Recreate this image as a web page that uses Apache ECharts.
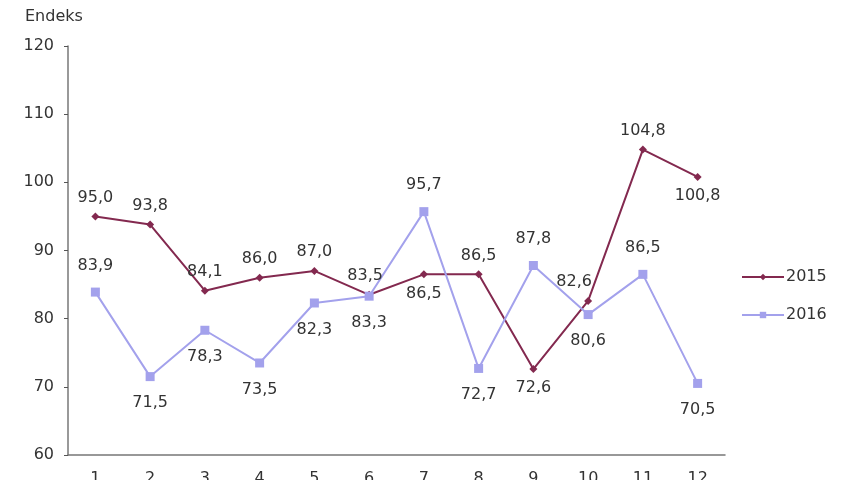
<!DOCTYPE html>
<html><head><meta charset="utf-8">
<script src="https://cdn.jsdelivr.net/npm/echarts@6/dist/echarts.min.js"></script>
<style>html,body{margin:0;padding:0;background:#fff}#c{width:860px;height:480px}</style>
</head><body><div id="c"></div>
<script>
var categories = ['1','2','3','4','5','6','7','8','9','10','11','12'];
var values2015 = [95.0, 93.8, 84.1, 86.0, 87.0, 83.5, 86.5, 86.5, 72.6, 82.6, 104.8, 100.8];
var values2016 = [83.9, 71.5, 78.3, 73.5, 82.3, 83.3, 95.7, 72.7, 87.8, 80.6, 86.5, 70.5];
var pos2015 = ['top','top','top','top','top','top','bottom','top','bottom','top','top','bottom'];
var pos2016 = ['top','bottom','bottom','bottom','bottom','bottom','top','bottom','top','bottom','top','bottom'];
var yTicks = [60, 70, 80, 90, 100, 110, 120];

function fmt(v){ return v.toFixed(1).replace('.', ','); }
function build(vals, pos, shiftIdx, shift){
  return vals.map(function(v,i){
    var lab = {position:pos[i]};
    if (shiftIdx && shiftIdx.indexOf(i) >= 0) lab.offset = shift[shiftIdx.indexOf(i)];
    return {value:v, label:lab};
  });
}
var chart = echarts.init(document.getElementById('c'));
var font = 'DejaVu Sans, sans-serif';
chart.setOption({
  animation:false,
  textStyle:{fontFamily:font},
  title:{text:'Endeks', left:20, top:4, textStyle:{fontSize:16, fontWeight:'normal', color:'#333', fontFamily:font}},
  grid:{left:68, right:135, top:46, bottom:25, containLabel:false, outerBoundsMode:'none'},
  legend:{
    orient:'vertical', left:736, top:264, itemGap:22, itemWidth:42, itemHeight:8,
    textStyle:{fontSize:16, color:'#333', fontFamily:font, padding:[0,0,0,-3]},
    data:['2015','2016']
  },
  xAxis:{
    type:'category', data:categories, boundaryGap:true,
    axisLine:{lineStyle:{color:'#777', width:1.5}},
    axisTick:{alignWithLabel:true, length:4, lineStyle:{color:'#555'}},
    axisLabel:{color:'#333', fontSize:16, margin:16}
  },
  yAxis:{
    type:'value', min:60, max:120, interval:10,
    axisLine:{show:true, lineStyle:{color:'#777', width:1.5}},
    axisTick:{show:true, length:4, lineStyle:{color:'#555'}},
    splitLine:{show:false},
    axisLabel:{color:'#333', fontSize:16, margin:14}
  },
  series:[
    {name:'2015', type:'line', data:build(values2015, pos2015, [5,9], [[-4,0],[-14,0]]), symbol:'diamond', symbolSize:8,
     lineStyle:{color:'#83294f', width:2}, itemStyle:{color:'#83294f'},
     label:{show:true, fontSize:16, color:'#333', fontFamily:font, distance:7, formatter:function(p){return fmt(p.value);}}},
    {name:'2016', type:'line', data:build(values2016, pos2016), symbol:'rect', symbolSize:9,
     lineStyle:{color:'#a3a1ec', width:2}, itemStyle:{color:'#a3a1ec'},
     label:{show:true, fontSize:16, color:'#333', fontFamily:font, distance:14, formatter:function(p){return fmt(p.value);}}}
  ]
});
</script></body></html>
